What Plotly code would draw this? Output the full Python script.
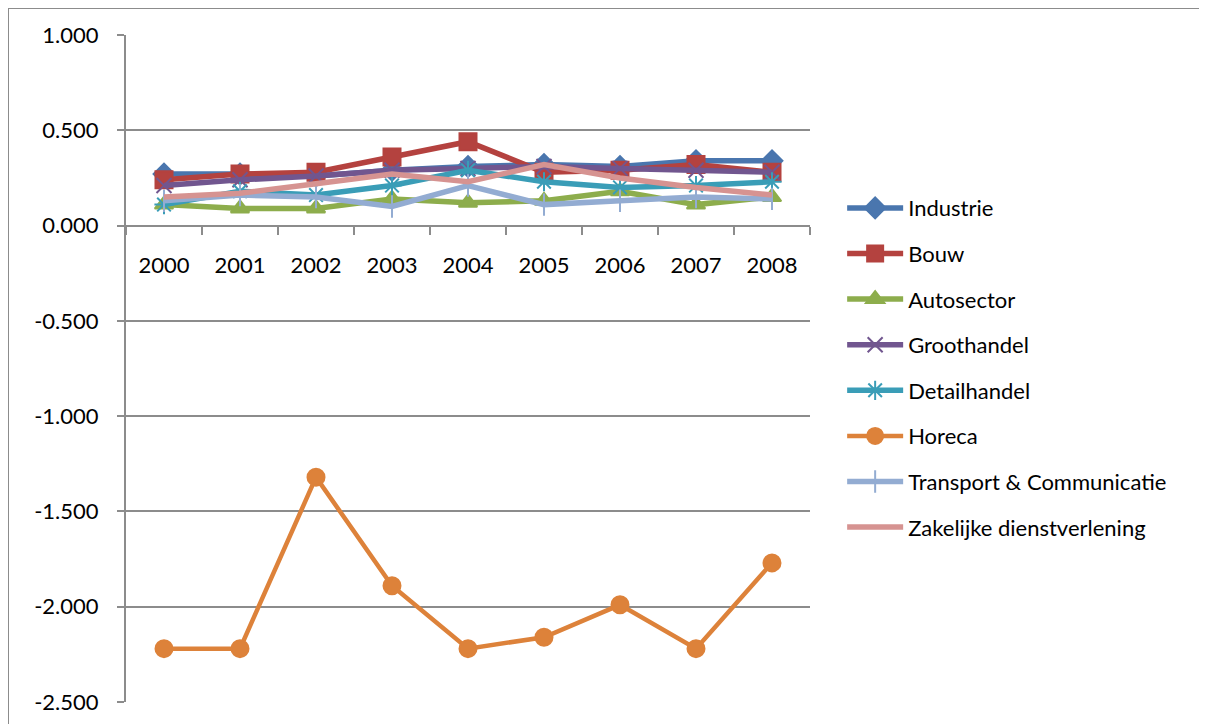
import plotly.graph_objects as go

years = ["2000", "2001", "2002", "2003", "2004", "2005", "2006", "2007", "2008"]
industrie = [0.27, 0.27, 0.26, 0.29, 0.31, 0.32, 0.31, 0.34, 0.34]
bouw = [0.24, 0.27, 0.28, 0.36, 0.44, 0.28, 0.29, 0.32, 0.28]
autosector = [0.11, 0.09, 0.09, 0.14, 0.12, 0.13, 0.18, 0.11, 0.15]
groothandel = [0.21, 0.24, 0.26, 0.29, 0.30, 0.31, 0.30, 0.29, 0.28]
detailhandel = [0.11, 0.18, 0.16, 0.21, 0.29, 0.23, 0.20, 0.21, 0.23]
horeca = [-2.22, -2.22, -1.32, -1.89, -2.22, -2.16, -1.99, -2.22, -1.77]
transport = [0.13, 0.16, 0.15, 0.10, 0.21, 0.11, 0.13, 0.15, 0.14]
zakelijke = [0.15, 0.17, 0.22, 0.27, 0.23, 0.32, 0.25, 0.20, 0.16]

y_ticks = [1.0, 0.5, 0.0, -0.5, -1.0, -1.5, -2.0, -2.5]
y_ticktext = [f"{v:.3f}" for v in y_ticks]

series = [
    ("Industrie", industrie, "#4A76AE", "diamond", 16, 5.5),
    ("Bouw", bouw, "#B4423F", "square", 17, 5.5),
    ("Autosector", autosector, "#8DAD4C", "triangle-up", 16, 5.5),
    ("Groothandel", groothandel, "#71568F", "x-thin-open", 15, 5.5),
    ("Detailhandel", detailhandel, "#3A9DB7", "asterisk-open", 16, 5.5),
    ("Horeca", horeca, "#DD823A", "circle", 17, 4.5),
    ("Transport & Communicatie", transport, "#93ACD2", "line-ns-open", 16, 5.5),
    ("Zakelijke dienstverlening", zakelijke, "#D69391", None, 0, 5.5),
]

fig = go.Figure()
for i, (name, vals, color, sym, size, lw) in enumerate(series):
    mode = "lines+markers" if sym else "lines"
    marker = dict(color=color, size=size, symbol=sym, line=dict(color=color, width=2)) if sym else None
    fig.add_trace(go.Scatter(
        x=years, y=vals, name=name, mode=mode,
        line=dict(color=color, width=lw),
        marker=marker, legendgroup=f"g{i}",
    ))

font_family = "Lato, 'Open Sans', sans-serif"
grid_color = "#8C8C8C"

# page body adds an 8px offset; compensate in margins
W, H = 1199, 716
L, T = 118, 27
PW, PH = 684, 667

fig.update_layout(
    width=W, height=H,
    margin=dict(l=L, r=W - L - PW, t=T, b=H - T - PH, autoexpand=False),
    paper_bgcolor="white", plot_bgcolor="white",
    font=dict(family=font_family, size=22, color="black"),
    showlegend=True,
    legend=dict(
        x=1.047, y=0.772, xanchor="left", yanchor="top",
        traceorder="grouped", tracegroupgap=14,
        font=dict(family=font_family, size=22, color="black"),
        bgcolor="rgba(0,0,0,0)", itemwidth=56,
    ),
    xaxis=dict(
        type="category", categoryorder="array", categoryarray=years,
        range=[-0.5, 8.5], automargin=False,
        anchor="free", position=(0 - (-2.5)) / 3.5,
        showline=True, linecolor=grid_color, linewidth=2,
        ticks="outside", tickson="boundaries", ticklen=8, tickwidth=2, tickcolor=grid_color,
        showgrid=False, ticklabelstandoff=20,
        tickfont=dict(family=font_family, size=22, color="black"),
    ),
    yaxis=dict(
        range=[-2.5, 1.0], tickvals=y_ticks, ticktext=y_ticktext, automargin=False,
        showline=True, linecolor=grid_color, linewidth=2,
        ticks="outside", ticklen=7, tickwidth=2, tickcolor=grid_color,
        showgrid=True, gridcolor=grid_color, gridwidth=2,
        zeroline=False, ticklabelstandoff=14,
        tickfont=dict(family=font_family, size=22, color="black"),
    ),
    shapes=[
        dict(type="rect", xref="paper", yref="paper",
             x0=(8 - 126) / PW, x1=1.9, y0=-0.5, y1=(702 - 8) / PH,
             line=dict(color="#8C8C8C", width=2), fillcolor="rgba(0,0,0,0)", layer="below"),
    ],
)

fig.write_html("out.html")
